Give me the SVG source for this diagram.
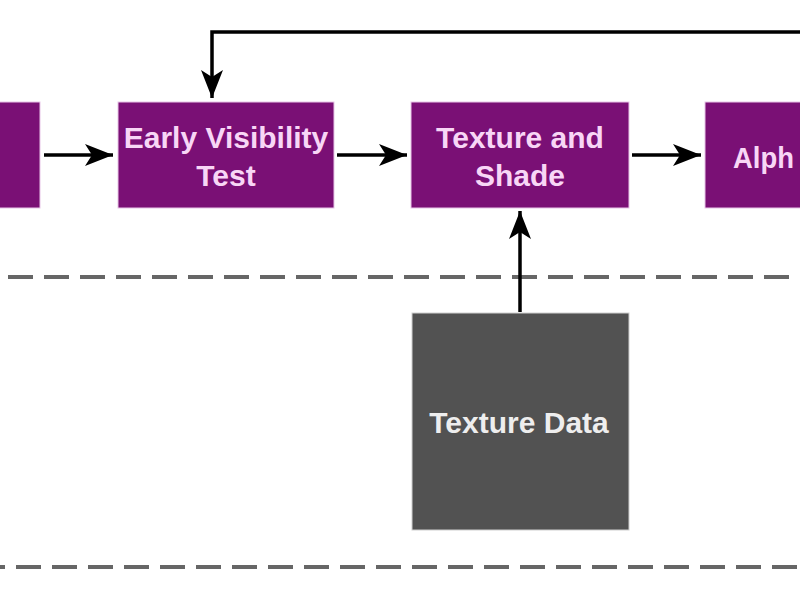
<svg xmlns="http://www.w3.org/2000/svg" width="800" height="600" viewBox="0 0 800 600">
<defs>
<style>
.stage{fill:#7a1075;stroke:#e8c6e8;stroke-width:1}
.stage-text{font-family:"Liberation Sans",Arial,sans-serif;font-weight:bold;font-size:30px;fill:#f8d6f6;text-anchor:middle}
.data{fill:#525252;stroke:#cfcfcf;stroke-width:1}
.data-text{font-family:"Liberation Sans",Arial,sans-serif;font-weight:bold;font-size:30px;fill:#eeeeee;text-anchor:middle}
.conn{fill:none;stroke:#000;stroke-width:3.5;marker-end:url(#arrow)}
.sep{fill:none;stroke:#666;stroke-width:4;stroke-dasharray:25 11}
</style>
<marker id="arrow" markerUnits="userSpaceOnUse" markerWidth="30" markerHeight="24" viewBox="0 0 30 24" refX="28" refY="12" orient="auto">
<path d="M0,1 L28,12 L0,23 L7,12 z" fill="#000"/>
</marker>
</defs>
<rect width="800" height="600" fill="#ffffff"/>
<g id="separators">
<line class="sep" x1="8" y1="277" x2="820" y2="277"/>
<line class="sep" x1="-20" y1="567" x2="820" y2="567"/>
</g>
<g id="node-prev">
<rect class="stage" x="-5" y="102" width="45" height="106"/>
</g>
<g id="node-early">
<rect class="stage" x="118" y="102" width="216" height="106"/>
<text class="stage-text" x="226" y="148">Early Visibility</text>
<text class="stage-text" x="226" y="186">Test</text>
</g>
<g id="node-texshade">
<rect class="stage" x="411" y="102" width="218" height="106"/>
<text class="stage-text" x="520" y="148">Texture and</text>
<text class="stage-text" x="520" y="186">Shade</text>
</g>
<g id="node-alpha">
<rect class="stage" x="705" y="102" width="110" height="106"/>
<text class="stage-text" x="733" y="168" style="text-anchor:start" textLength="61" lengthAdjust="spacingAndGlyphs">Alph</text>
</g>
<g id="node-texdata">
<rect class="data" x="412" y="313" width="217" height="217"/>
<text class="data-text" x="519" y="433">Texture Data</text>
</g>
<g id="connectors">
<path class="conn" d="M44,155 L113,155"/>
<path class="conn" d="M337,155 L407,155"/>
<path class="conn" d="M632,155 L701,155"/>
<path class="conn" d="M520,312 L520,211"/>
<path class="conn" d="M805,32 L212,32 L212,98"/>
</g>
</svg>
